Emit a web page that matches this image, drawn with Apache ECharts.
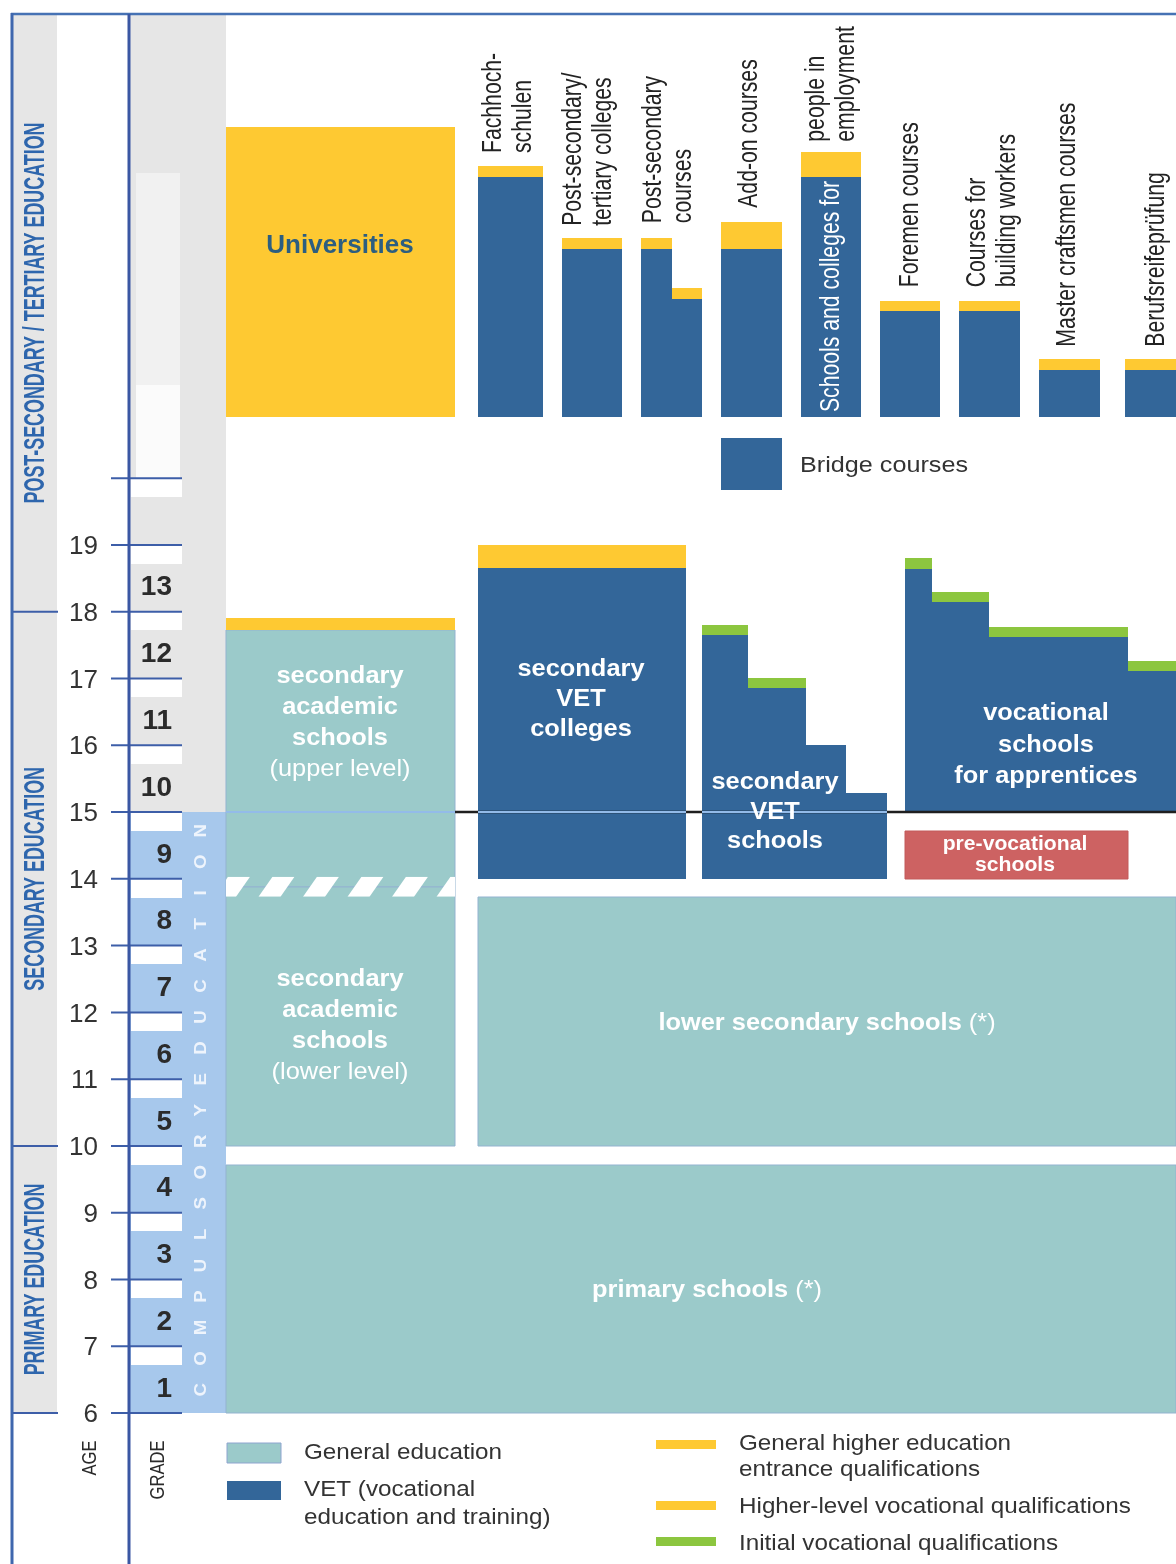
<!DOCTYPE html>
<html>
<head>
<meta charset="utf-8">
<title>Education system</title>
<script src="https://cdn.jsdelivr.net/npm/echarts@6.0.0/dist/echarts.min.js"></script>
<style>
html,body{margin:0;padding:0;background:#ffffff;}
#chart{width:1176px;height:1564px;}
</style>
</head>
<body>
<div id="chart"></div>
<script>
// ================= DATA =================
const ageTicks = [6, 7, 8, 9, 10, 11, 12, 13, 14, 15, 16, 17, 18, 19];
const ageTicksUnlabeled = [20];
const grades = [1, 2, 3, 4, 5, 6, 7, 8, 9, 10, 11, 12, 13];
const sectionNames = ['PRIMARY EDUCATION', 'SECONDARY EDUCATION', 'POST-SECONDARY / TERTIARY EDUCATION'];
const sectionBounds = [6, 10, 18, 26.95];
const compulsoryRange = [6, 15];
const compulsoryLabel = 'COMPULSORY EDUCATION';

// [name, kind, xFrom, xTo, ageFrom, ageTo, capKind, capTo]
const tertiaryBlocks = [
  ['Universities', 'higher', 226, 455, 20.92, 25.26, null, null],
  ['Fachhochschulen', 'vet', 478, 543, 20.92, 24.51, 'higher', 24.68],
  ['Post-secondary/tertiary colleges', 'vet', 562, 622, 20.92, 23.43, 'higher', 23.60],
  ['Post-secondary courses', 'vet', 641, 672, 20.92, 23.43, 'higher', 23.60],
  ['Post-secondary courses', 'vet', 672, 702, 20.92, 22.68, 'higher', 22.85],
  ['Add-on courses', 'vet', 721, 782, 20.92, 23.43, 'higher', 23.84],
  ['Schools and colleges for people in employment', 'vet', 801, 861, 20.92, 24.51, 'higher', 24.89],
  ['Foremen courses', 'vet', 880, 940, 20.92, 22.50, 'higher', 22.65],
  ['Courses for building workers', 'vet', 959, 1020, 20.92, 22.50, 'higher', 22.65],
  ['Master craftsmen courses', 'vet', 1039, 1100, 20.92, 21.62, 'higher', 21.79],
  ['Berufsreifeprüfung', 'vet', 1125, 1176, 20.92, 21.62, 'higher', 21.79],
  ['Bridge courses', 'vet', 721, 782, 19.82, 20.60, null, null]
];
const secondaryBlocks = [
  ['secondary academic schools (upper level)', 'general', 226, 455, 13.88, 17.73, 'gen', 17.91],
  ['secondary academic schools (lower level)', 'general', 226, 455, 10.0, 13.88, null, null],
  ['secondary VET colleges', 'vet', 478, 686, 14.0, 18.65, 'gen', 19.0],
  ['secondary VET schools', 'vet', 702, 748, 14.0, 17.65, 'initial', 17.80],
  ['secondary VET schools', 'vet', 748, 806, 14.0, 16.86, 'initial', 17.01],
  ['secondary VET schools', 'vet', 806, 846, 14.0, 16.0, null, null],
  ['secondary VET schools', 'vet', 846, 887, 14.0, 15.29, null, null],
  ['vocational schools for apprentices', 'vet', 905, 932, 15.0, 18.64, 'initial', 18.80],
  ['vocational schools for apprentices', 'vet', 932, 989, 15.0, 18.15, 'initial', 18.30],
  ['vocational schools for apprentices', 'vet', 989, 1128, 15.0, 17.62, 'initial', 17.77],
  ['vocational schools for apprentices', 'vet', 1128, 1176, 15.0, 17.11, 'initial', 17.26],
  ['pre-vocational schools', 'prevoc', 905, 1128, 14.0, 14.72, null, null],
  ['lower secondary schools', 'general', 478, 1176, 10.0, 13.73, null, null]
];
const primaryBlocks = [
  ['primary schools', 'general', 226, 1176, 6.0, 9.71, null, null]
];
// academic school transition band (dashed): [xFrom, xTo, ageFrom, ageTo]
const academicTransition = [226, 455, 13.73, 14.03];

// rotated column headings: [text, x, age where text starts, colour]
const headerLabels = [
  ['Fachhoch-\nschulen', 508, 24.87, 'dark'],
  ['Post-secondary/\ntertiary colleges', 588, 23.78, 'dark'],
  ['Post-secondary\ncourses', 668, 23.82, 'dark'],
  ['Add-on courses', 749, 24.05, 'dark'],
  ['people in\nemployment', 831, 25.04, 'dark'],
  ['Schools and colleges for', 831, 20.99, 'light'],
  ['Foremen courses', 910, 22.86, 'dark'],
  ['Courses for\nbuilding workers', 992, 22.86, 'dark'],
  ['Master craftsmen courses', 1067, 21.97, 'dark'],
  ['Berufsreifeprüfung', 1156, 21.97, 'dark']
];
const legendGeneral = ['General education', 'VET (vocational\neducation and training)'];
const legendQualifications = ['General higher education\nentrance qualifications', 'Higher-level vocational qualifications', 'Initial vocational qualifications'];

// ================= STYLE / LAYOUT =================
const C = {
  general: '#9bcaca', vet: '#336699', higher: '#fec932', gen: '#fec932', initial: '#8cc63f',
  prevoc: '#cd6262', comp: '#a7c8ec', gray: '#e6e6e6', text: '#333333', section: '#2e66ad',
  tick: '#3d5ea8', frame: '#4672b4'
};
const SANS = '"Liberation Sans", Arial, Helvetica, sans-serif';
const NARROW = '"Liberation Sans Narrow", "Liberation Sans", Arial, sans-serif';
const L = {
  secX0: 13, secX1: 57, secLineX0: 12, secLineX1: 58, secLabelX: 36,
  ageRight: 98, tickX0: 111, tickX1: 182,
  gradeX0: 130, gradeX1: 226, cellX0: 131, cellX1: 182, gradeRight: 172, stripe: 0.28,
  compLetterX: 201, compLetterFrom: 6.35, compLetterTo: 14.72,
  line15X0: 455, line15X1: 1176, dashPeriod: 44.5, dashStart: 214
};
const mctx = document.createElement('canvas').getContext('2d');
function textW(t, weight, size, fam) { mctx.font = weight + ' ' + size + 'px ' + fam; return mctx.measureText(t).width; }
const headScale = 244 / textW('Master craftsmen courses', 'normal', 28, NARROW);
const sectScale = 381 / textW('POST-SECONDARY / TERTIARY EDUCATION', 'bold', 29, NARROW);
const capScale = 35 / textW('AGE', 'normal', 21, NARROW);
const blockScale = 127 / textW('secondary', 'bold', 24, SANS);
const legendScale = 198 / textW('General education', 'normal', 22, SANS);
const bridgeScale = 168 / textW('Bridge courses', 'normal', 22, SANS);

// ================= HELPERS =================
function R(api, x0, x1, a0, a1, style) {
  const p = api.coord([x0, a1]), q = api.coord([x1, a0]);
  const X0 = Math.round(p[0]), Y0 = Math.round(p[1]), X1 = Math.round(q[0]), Y1 = Math.round(q[1]);
  return { type: 'rect', shape: { x: X0, y: Y0, width: X1 - X0, height: Y1 - Y0 }, style: style };
}
function Ln(api, x0, a0, x1, a1, stroke, w) {
  const p = api.coord([x0, a0]), q = api.coord([x1, a1]);
  return { type: 'line', shape: { x1: p[0], y1: p[1], x2: q[0], y2: q[1] }, style: { stroke: stroke, lineWidth: w } };
}
function T(api, x, a, text, o) {
  const p = api.coord([x, a]);
  const st = {
    text: text, fill: o.fill || C.text, fontSize: o.size || 22, fontWeight: o.weight || 'normal',
    fontFamily: o.family || SANS, align: o.align || 'center', verticalAlign: o.va || 'middle'
  };
  if (o.lh) st.lineHeight = o.lh;
  if (o.rich) st.rich = o.rich;
  return { type: 'text', x: p[0] + (o.dx || 0), y: p[1] + (o.dy || 0), rotation: o.rot || 0, scaleX: o.sx || 1, style: st };
}

// ================= ITEMS =================
const items = [];
const push = f => items.push(f);

// left section column
sectionNames.forEach((n, i) => push(api => R(api, L.secX0, L.secX1, sectionBounds[i], sectionBounds[i + 1], { fill: C.gray })));
// grade column
push(api => R(api, L.gradeX0, L.gradeX1, compulsoryRange[1], sectionBounds[3], { fill: C.gray }));
push(api => R(api, L.cellX0 + 5, L.cellX1 - 2, 21.40, 24.57, { fill: '#f1f1f1' }));
push(api => R(api, L.cellX0 + 5, L.cellX1 - 2, 19.75, 21.40, { fill: '#fbfbfb' }));
push(api => R(api, L.gradeX0, L.gradeX1, compulsoryRange[0], compulsoryRange[1], { fill: C.comp }));
ageTicks.concat(ageTicksUnlabeled).filter(a => a > ageTicks[0]).forEach(a =>
  push(api => R(api, L.cellX0, L.cellX1, a - L.stripe, a, { fill: '#ffffff' })));

// education blocks
const allBlocks = primaryBlocks.concat(secondaryBlocks, tertiaryBlocks);
allBlocks.forEach(b => push(api => {
  const [name, kind, x0, x1, a0, a1, capKind, capTo] = b;
  const st = { fill: C[kind] };
  if (kind === 'general') { st.stroke = '#93b3d0'; st.lineWidth = 1; }
  if (kind === 'prevoc') { st.stroke = '#c25a5a'; st.lineWidth = 1; }
  const ch = [R(api, x0, x1, a0, a1, st)];
  if (capKind) ch.push(R(api, x0, x1, a1, capTo, { fill: C[capKind] }));
  return { type: 'group', children: ch };
}));

// end of compulsory education line (age 15)
push(api => Ln(api, L.line15X0, compulsoryRange[1], L.line15X1, compulsoryRange[1], '#1f1f1f', 2.5));
allBlocks.filter(b => b[4] < compulsoryRange[1] && b[5] > compulsoryRange[1]).forEach(b =>
  push(api => Ln(api, b[2], compulsoryRange[1], b[3], compulsoryRange[1], '#93bbe9', 2)));

// dashed transition between lower and upper academic levels
push(api => {
  const [x0, x1, a0, a1] = academicTransition;
  const p = api.coord([x0, a1]), q = api.coord([x1, a0]);
  const ch = [];
  for (let k = -1; k < 8; k++) {
    const xb = L.dashStart + k * L.dashPeriod;
    const pts = [[xb, a0], [xb + 22, a0], [xb + 36, a1], [xb + 14, a1]].map(v => api.coord(v));
    ch.push({ type: 'polygon', shape: { points: pts }, style: { fill: '#ffffff' } });
  }
  return { type: 'group', children: ch,
    clipPath: { type: 'rect', shape: { x: p[0], y: p[1], width: q[0] - p[0], height: q[1] - p[1] } } };
});

// age ticks & section dividers
ageTicks.concat(ageTicksUnlabeled).forEach(a => push(api => Ln(api, L.tickX0, a, L.tickX1, a, C.tick, 2)));
sectionBounds.slice(0, 3).forEach(a => push(api => Ln(api, L.secLineX0, a, L.secLineX1, a, C.tick, 2)));

// axis labels
ageTicks.forEach(a => push(api => T(api, L.ageRight, a, String(a), { align: 'right', size: 26, dy: 2 })));
grades.forEach(g => push(api => T(api, L.gradeRight, g + 5.36, String(g), { align: 'right', size: 28, weight: 'bold', fill: '#2b2b2b' })));
sectionNames.forEach((n, i) => push(api => T(api, L.secLabelX, (sectionBounds[i] + sectionBounds[i + 1]) / 2, n,
  { rot: Math.PI / 2, sx: sectScale, size: 29, weight: 'bold', family: NARROW, fill: C.section })));
const letters = compulsoryLabel.replace(/ /g, '').split('');
letters.forEach((ch, i) => push(api => T(api, L.compLetterX,
  L.compLetterFrom + i * (L.compLetterTo - L.compLetterFrom) / (letters.length - 1), ch,
  { rot: Math.PI / 2, size: 17, weight: 'bold', fill: '#eef4fc', sx: 1.1 })));

// block labels
const richStyles = {
  b: { fontSize: 24, fontWeight: 'bold', fontFamily: SANS, fill: '#ffffff', lineHeight: 31 },
  r: { fontSize: 24, fontWeight: 'normal', fontFamily: SANS, fill: '#ffffff', lineHeight: 31 }
};
const blockLabels = [
  { x: 340, age: 23.48, text: 'Universities', o: { size: 26, weight: 'bold', fill: '#2c5e80' } },
  { x: 340, age: 16.34, text: '{b|secondary}\n{b|academic}\n{b|schools}\n{r|(upper level)}', o: { rich: richStyles, sx: blockScale } },
  { x: 581, age: 16.69, text: 'secondary\nVET\ncolleges', o: { size: 24, weight: 'bold', fill: '#fff', lh: 30, sx: blockScale } },
  { x: 775, age: 15.0, text: 'secondary\nVET\nschools', o: { size: 24, weight: 'bold', fill: '#fff', lh: 29.5, sx: blockScale } },
  { x: 1046, age: 16.0, text: 'vocational\nschools\nfor apprentices', o: { size: 24, weight: 'bold', fill: '#fff', lh: 31.5, sx: blockScale } },
  { x: 1015, age: 14.35, text: 'pre-vocational\nschools', o: { size: 20, weight: 'bold', fill: '#fff', lh: 21, sx: blockScale } },
  { x: 340, age: 11.80, text: '{b|secondary}\n{b|academic}\n{b|schools}\n{r|(lower level)}', o: { rich: richStyles, sx: blockScale } },
  { x: 827, age: 11.84, text: '{b|lower secondary schools}{r| (*)}', o: { rich: richStyles, sx: blockScale } },
  { x: 707, age: 7.83, text: '{b|primary schools}{r| (*)}', o: { rich: richStyles, sx: blockScale } },
  { x: 800, age: 20.18, text: 'Bridge courses', o: { size: 22, align: 'left', fill: '#333', sx: bridgeScale } }
];
blockLabels.forEach(l => push(api => T(api, l.x, l.age, l.text, l.o)));

headerLabels.forEach(h => push(api => T(api, h[1], h[2], h[0], {
  rot: Math.PI / 2, sx: headScale, size: 28, family: NARROW, align: 'left', lh: 30,
  fill: h[3] === 'light' ? '#ffffff' : '#232323'
})));

// ================= CHART =================
const chart = echarts.init(document.getElementById('chart'), null, { renderer: 'canvas' });
const legendX = 227, qualX = 656;
chart.setOption({
  animation: false,
  backgroundColor: '#ffffff',
  grid: { left: 0, right: 0, top: 10.83, bottom: 17.46 },
  xAxis: { type: 'value', min: 0, max: 1176, show: false },
  yAxis: { type: 'value', min: 4, max: 27, interval: 1, show: false },
  series: [{
    type: 'custom', coordinateSystem: 'cartesian2d', silent: true, clip: false,
    data: items.map((_, i) => [i, 10]),
    renderItem: (params, api) => items[params.dataIndex](api)
  }],
  graphic: [
    { type: 'line', z: 10, shape: { x1: 11, y1: 14, x2: 1176, y2: 14 }, style: { stroke: C.frame, lineWidth: 2.5 } },
    { type: 'line', z: 10, shape: { x1: 12, y1: 13, x2: 12, y2: 1564 }, style: { stroke: '#3f67ae', lineWidth: 3 } },
    { type: 'line', z: 10, shape: { x1: 129, y1: 14, x2: 129, y2: 1564 }, style: { stroke: '#3a57a3', lineWidth: 3 } },
    { type: 'text', z: 10, x: 90, y: 1458, rotation: Math.PI / 2, scaleX: capScale,
      style: { text: 'AGE', fill: '#2a2a2a', fontSize: 21, fontFamily: NARROW, align: 'center', verticalAlign: 'middle' } },
    { type: 'text', z: 10, x: 158, y: 1470, rotation: Math.PI / 2, scaleX: capScale,
      style: { text: 'GRADE', fill: '#2a2a2a', fontSize: 21, fontFamily: NARROW, align: 'center', verticalAlign: 'middle' } },
    // legend: education types
    { type: 'rect', shape: { x: legendX, y: 1443, width: 54, height: 20 }, style: { fill: C.general, stroke: '#8ea4cf', lineWidth: 1 } },
    { type: 'rect', shape: { x: legendX, y: 1481, width: 54, height: 19 }, style: { fill: C.vet } },
    { type: 'text', x: 304, y: 1453, scaleX: legendScale,
      style: { text: legendGeneral[0], fill: '#333', fontSize: 22, fontFamily: SANS, align: 'left', verticalAlign: 'middle' } },
    { type: 'text', x: 304, y: 1504, scaleX: legendScale,
      style: { text: legendGeneral[1], fill: '#333', fontSize: 22, fontFamily: SANS, align: 'left', verticalAlign: 'middle', lineHeight: 28 } },
    // legend: qualifications
    { type: 'rect', shape: { x: qualX, y: 1440, width: 60, height: 9 }, style: { fill: C.gen } },
    { type: 'rect', shape: { x: qualX, y: 1501, width: 60, height: 9 }, style: { fill: C.higher } },
    { type: 'rect', shape: { x: qualX, y: 1537, width: 60, height: 9 }, style: { fill: C.initial } },
    { type: 'text', x: 739, y: 1457, scaleX: legendScale,
      style: { text: legendQualifications[0], fill: '#333', fontSize: 22, fontFamily: SANS, align: 'left', verticalAlign: 'middle', lineHeight: 26 } },
    { type: 'text', x: 739, y: 1507, scaleX: legendScale,
      style: { text: legendQualifications[1], fill: '#333', fontSize: 22, fontFamily: SANS, align: 'left', verticalAlign: 'middle' } },
    { type: 'text', x: 739, y: 1544, scaleX: legendScale,
      style: { text: legendQualifications[2], fill: '#333', fontSize: 22, fontFamily: SANS, align: 'left', verticalAlign: 'middle' } }
  ]
});
</script>
</body>
</html>
